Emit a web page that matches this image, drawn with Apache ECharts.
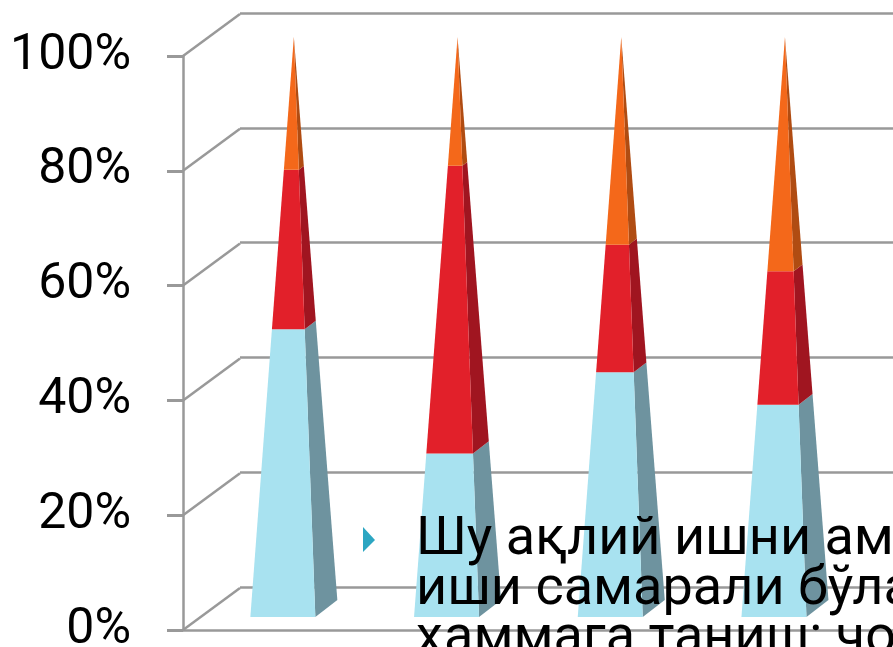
<!DOCTYPE html>
<html><head><meta charset="utf-8">
<style>html,body{margin:0;padding:0;background:#fff;overflow:hidden}#c{width:893px;height:647px}</style>
<script src="https://cdn.jsdelivr.net/npm/echarts@6/dist/echarts.min.js"></script>
</head><body><div id="c"></div>
<script>
var categories = ['1','2','3','4'];
var blueValues = [49.6, 28.2, 42.2, 36.6];
var redValues = [27.5, 49.6, 22.0, 23.0];
var orangeValues = [22.9, 22.2, 35.8, 40.4];
var tickValues = [0, 20, 40, 60, 80, 100];
var textLines = ['Шу ақлий ишни ама', 'иши самарали бўла', 'ҳаммага таниш: чо'];

var chart = echarts.init(document.getElementById('c'), null, {renderer:'canvas'});
var GRAY = '#999999';
var DEPTH = {x:57, y:-42};
var BASE = {fl:43.5, fr:21.5, br:43.5, dy:8.5};

function faceRender(frontColor, sideColor){
  return function(params, api){
    var i = api.value(0), v0 = api.value(1), v1 = api.value(2);
    var p0 = api.coord([i, v0]), p1 = api.coord([i, v1]);
    var f0 = 1 - v0/100, f1 = 1 - v1/100;
    var FL = function(p,f){return [p[0]-BASE.fl*f, p[1]+BASE.dy*f];};
    var FR = function(p,f){return [p[0]+BASE.fr*f, p[1]+BASE.dy*f];};
    var BR = function(p,f){return [p[0]+BASE.br*f, p[1]-BASE.dy*f];};
    return {type:'group', children:[
      {type:'polygon', shape:{points:[FR(p0,f0),BR(p0,f0),BR(p1,f1),FR(p1,f1)]}, style:{fill:sideColor}},
      {type:'polygon', shape:{points:[FL(p0,f0),FR(p0,f0),FR(p1,f1),FL(p1,f1)]}, style:{fill:frontColor}}
    ]};
  };
}
function segs(vals, bases){
  return vals.map(function(v,i){return [i, bases[i], bases[i]+v];});
}
var zeros = blueValues.map(function(){return 0;});
var redBase = blueValues.slice();
var orangeBase = blueValues.map(function(b,i){return b+redValues[i];});

chart.setOption({
  animation:false,
  backgroundColor:'#fff',
  grid:[
    {left:183, top:56, width:800, height:574, outerBoundsMode:'none'},
    {left:240, top:13, width:800, height:574, outerBoundsMode:'none'},
    {left:212, top:37, width:654.8, height:571.5, outerBoundsMode:'none'}
  ],
  xAxis:[
    {gridIndex:0, type:'value', min:0, max:1, splitLine:{show:false}, axisLabel:{show:false}, axisTick:{show:false},
     axisLine:{show:true, onZero:false, lineStyle:{color:GRAY, width:2.5}}},
    {gridIndex:1, type:'value', min:0, max:1, show:false},
    {gridIndex:2, type:'category', data:categories, show:false}
  ],
  yAxis:[
    {gridIndex:0, type:'value', min:0, max:100, interval:20, splitLine:{show:false},
     axisLine:{show:true, onZero:false, lineStyle:{color:GRAY, width:2.5}},
     axisTick:{show:true, length:16, lineStyle:{color:GRAY, width:3}},
     axisLabel:{margin:52, formatter:'{value}%', color:'#000', fontSize:50, fontFamily:'Roboto'}},
    {gridIndex:1, type:'value', min:0, max:100, interval:20, axisLine:{show:false}, axisTick:{show:false}, axisLabel:{show:false},
     splitLine:{show:true, lineStyle:{color:GRAY, width:2.5}}},
    {gridIndex:2, type:'value', min:0, max:100, show:false}
  ],
  series:[
    {type:'custom', xAxisIndex:0, yAxisIndex:0, clip:false, silent:true,
     data:tickValues.map(function(v){return [0,v];}), encode:{x:0,y:1},
     renderItem:function(params, api){
       var p = api.coord([0, api.value(1)]);
       return {type:'line', shape:{x1:p[0],y1:p[1],x2:p[0]+DEPTH.x,y2:p[1]+DEPTH.y}, style:{stroke:GRAY, lineWidth:2.5}};
     }},
    {type:'custom', xAxisIndex:2, yAxisIndex:2, clip:false, silent:true, encode:{x:0,y:2},
     data:segs(blueValues, zeros), renderItem:faceRender('#A8E2F0','#6E939F')},
    {type:'custom', xAxisIndex:2, yAxisIndex:2, clip:false, silent:true, encode:{x:0,y:2},
     data:segs(redValues, redBase), renderItem:faceRender('#E2202A','#A01520')},
    {type:'custom', xAxisIndex:2, yAxisIndex:2, clip:false, silent:true, encode:{x:0,y:2},
     data:segs(orangeValues, orangeBase), renderItem:faceRender('#F4681A','#B04C12')}
  ],
  graphic:[
    {type:'polygon', z:100, shape:{points:[[363,527],[375,540],[363,552]]}, style:{fill:'#2CA6C2'}},
    {type:'text', z:100, left:416, top:513, style:{text:textLines[0], fill:'#000', font:'54px Roboto'}},
    {type:'text', z:100, left:416, top:563, style:{text:textLines[1], fill:'#000', font:'54px Roboto'}},
    {type:'text', z:100, left:416, top:612, style:{text:textLines[2], fill:'#000', font:'54px Roboto'}}
  ]
});
</script></body></html>
